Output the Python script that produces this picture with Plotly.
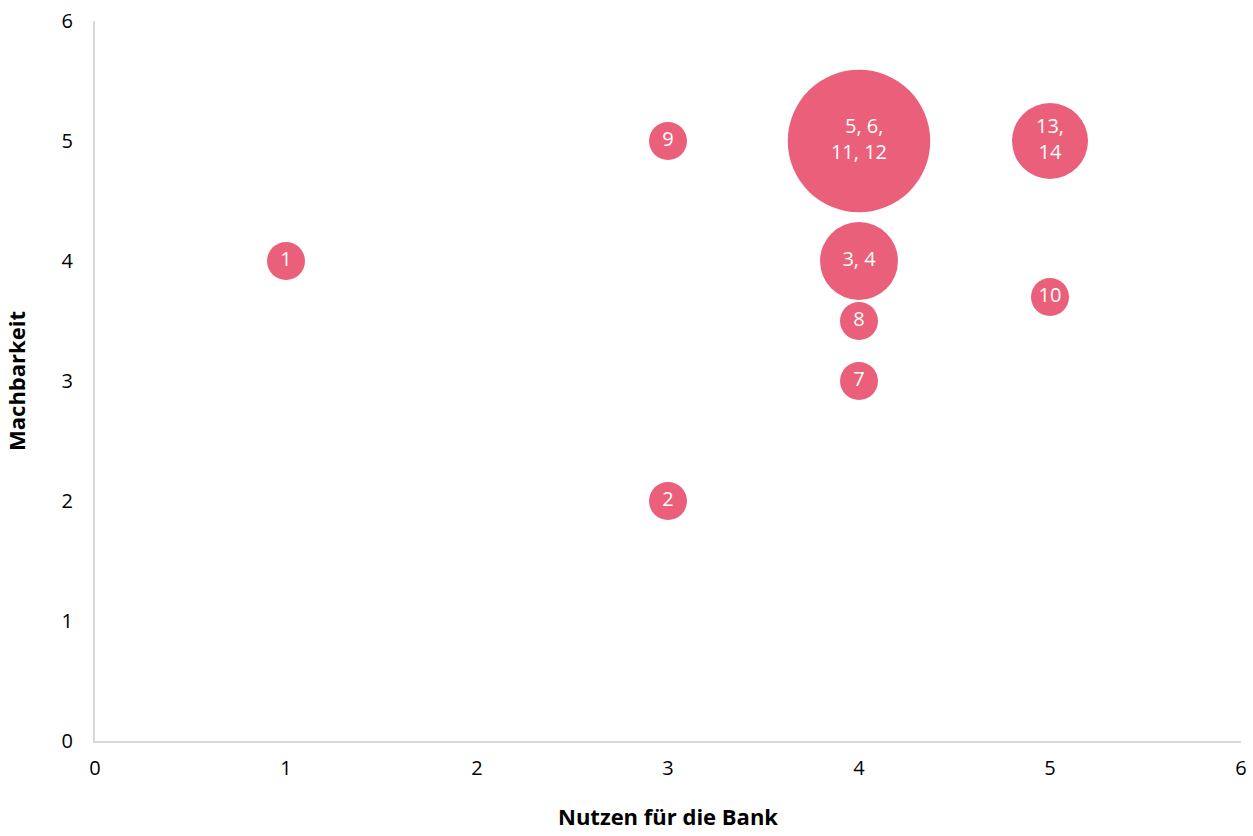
import plotly.graph_objects as go

nutzen = [1, 3, 3, 4, 4, 4, 4, 5, 5]
machbarkeit = [4, 2, 5, 5, 4, 3.5, 3, 5, 3.7]
labels = ["1", "2", "9", "\u00a0\u00a05, 6,<br>11, 12", "3, 4", "8", "7", "13,<br>14", "10"]
bubble_size = [1, 1, 1, 3.75, 2.05, 1, 1, 2, 1]

color = "#EA5F7A"
font_family = "Open Sans, Noto Sans, DejaVu Sans, sans-serif"

fig = go.Figure(go.Scatter(
    x=nutzen, y=machbarkeit, mode="markers+text",
    text=labels, textposition="middle center",
    textfont=dict(color="white", size=20, family=font_family),
    marker=dict(size=bubble_size, sizemode="diameter", sizeref=1/38,
                color=color, opacity=1, line=dict(width=0)),
    hoverinfo="skip", cliponaxis=False,
))

fig.update_layout(
    width=1253, height=836,
    margin=dict(l=95, r=12, t=21, b=95),
    paper_bgcolor="white", plot_bgcolor="white",
    showlegend=False,
    font=dict(family=font_family, color="black", size=20),
)
fig.update_xaxes(
    range=[0, 6], dtick=1, showgrid=False, zeroline=False,
    showline=True, linecolor="#d9d9d9", linewidth=2,
    ticks="", tickfont=dict(size=20), automargin=False, ticklabelstandoff=8,
    title=dict(text="<b>Nutzen für die Bank</b>", font=dict(size=22), standoff=30),
)
fig.update_yaxes(
    range=[0, 6], dtick=1, showgrid=False, zeroline=False,
    showline=True, linecolor="#d9d9d9", linewidth=2,
    ticks="", tickfont=dict(size=20), ticklabelstandoff=16, automargin=False,
    title=dict(text="<b>Machbarkeit</b>", font=dict(size=22), standoff=30),
)

fig.write_html("out.html")
